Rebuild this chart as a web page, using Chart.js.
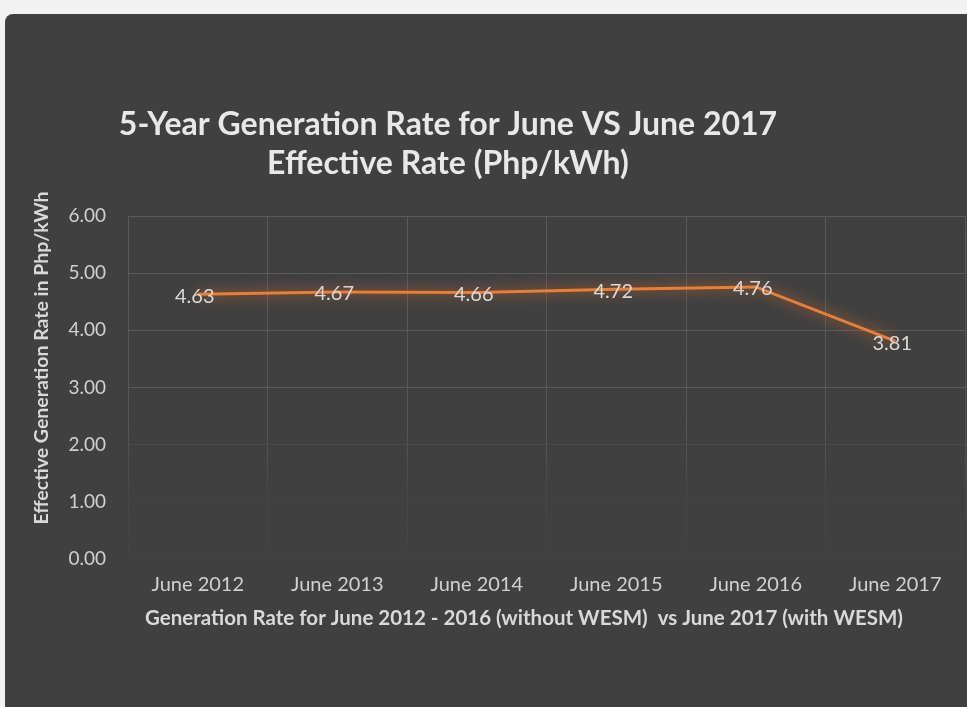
<!DOCTYPE html>
<html>
<head>
<meta charset="utf-8">
<script src="https://cdn.jsdelivr.net/npm/chart.js@4.4.0/dist/chart.umd.min.js"></script>
<style>
html,body{margin:0;padding:0;background:#f2f2f2;}
#wrap{width:967px;height:707px;position:relative;}
</style>
</head>
<body>
<div id="wrap"><canvas id="c" width="967" height="707"></canvas></div>
<script>
const categories = ["June 2012","June 2013","June 2014","June 2015","June 2016","June 2017"];
const rates = [4.63, 4.67, 4.66, 4.72, 4.76, 3.81];
const rateLabels = ["4.63","4.67","4.66","4.72","4.76","3.81"];
const titleLines = ["5-Year Generation Rate for June VS June 2017","Effective Rate (Php/kWh)"];
const yAxisTitle = "Effective Generation Rate in Php/kWh";
const xAxisTitle = "Generation Rate for June 2012 - 2016 (without WESM)  vs June 2017 (with WESM)";

const FONT = "Lato, 'Open Sans', 'DejaVu Sans', sans-serif";

const bgPlugin = {
  id: 'bg',
  beforeDraw(chart) {
    const ctx = chart.ctx;
    ctx.save();
    ctx.fillStyle = '#f2f2f2';
    ctx.fillRect(0, 0, chart.width, chart.height);
    ctx.fillStyle = '#404040';
    ctx.beginPath();
    if (ctx.roundRect) ctx.roundRect(5, 14, chart.width + 20, chart.height + 20, 8);
    else ctx.rect(5, 14, chart.width + 20, chart.height + 20);
    ctx.fill();
    ctx.restore();
  }
};

const textPlugin = {
  id: 'customText',
  afterDraw(chart) {
    const ctx = chart.ctx;
    ctx.save();
    ctx.fillStyle = '#e8e8e8';
    ctx.font = "bold 32px " + FONT;
    ctx.textAlign = 'center';
    ctx.textBaseline = 'middle';
    ctx.fillText(titleLines[0], 448, 125);
    ctx.fillText(titleLines[1], 448, 164);
    ctx.fillStyle = '#d9d9d9';
    ctx.font = "bold 20.5px " + FONT;
    ctx.fillText(xAxisTitle, 524, 618);
    ctx.translate(42, 358);
    ctx.rotate(-Math.PI / 2);
    ctx.font = "bold 19.5px " + FONT;
    ctx.fillText(yAxisTitle, 0, 0);
    ctx.restore();
  }
};

const glowPlugin = {
  id: 'glow',
  beforeDatasetDraw(chart) {
    const ctx = chart.ctx;
    ctx.save();
    ctx.shadowColor = 'rgba(237,125,49,0.9)';
    ctx.shadowBlur = 14;
  },
  afterDatasetDraw(chart) {
    chart.ctx.restore();
  }
};

const labelPlugin = {
  id: 'pointLabels',
  afterDatasetsDraw(chart) {
    const ctx = chart.ctx;
    const meta = chart.getDatasetMeta(0);
    ctx.save();
    ctx.fillStyle = '#d9d9d9';
    ctx.font = "20px " + FONT;
    ctx.textAlign = 'center';
    ctx.textBaseline = 'middle';
    meta.data.forEach((pt, i) => {
      ctx.fillText(rateLabels[i], pt.x - 3, pt.y + 2);
    });
    ctx.restore();
  }
};

function vGridColor(c) {
  const ch = c.chart, a = ch.chartArea;
  if (!a) return '#595959';
  const g = ch.ctx.createLinearGradient(0, a.top, 0, a.bottom);
  g.addColorStop(0, '#5a5a5a');
  g.addColorStop(0.62, '#575757');
  g.addColorStop(0.82, '#474747');
  g.addColorStop(1, '#424242');
  return g;
}
function hGridColor(c) {
  const v = c.tick ? c.tick.value : 0;
  if (v >= 3) return '#5a5a5a';
  if (v === 2) return '#4a4a4a';
  return '#434343';
}

new Chart(document.getElementById('c'), {
  type: 'line',
  data: {
    labels: categories,
    datasets: [{
      data: rates,
      borderColor: '#ed7d31',
      borderWidth: 3,
      pointRadius: 0,
      tension: 0,
      fill: false
    }]
  },
  options: {
    responsive: false,
    animation: false,
    devicePixelRatio: 1,
    layout: { padding: { top: 216, right: 2, bottom: 110, left: 30 } },
    plugins: {
      legend: { display: false },
      tooltip: { enabled: false },
      title: { display: false }
    },
    scales: {
      x: {
        offset: true,
        grid: { offset: true, color: vGridColor, drawTicks: false },
        border: { display: false },
        ticks: { color: '#d0d0d0', font: { family: FONT, size: 20 }, padding: 14, maxRotation: 0 },
        afterFit: s => { s.height = 38; }
      },
      y: {
        min: 0, max: 6,
        ticks: { stepSize: 1, color: '#d0d0d0', font: { family: FONT, size: 19 }, padding: 22,
          callback: v => v.toFixed(2) },
        grid: { color: hGridColor, drawTicks: false },
        border: { display: false },
        afterFit: s => { s.width = 98; }
      }
    }
  },
  plugins: [bgPlugin, textPlugin, glowPlugin, labelPlugin]
});
</script>
</body>
</html>
